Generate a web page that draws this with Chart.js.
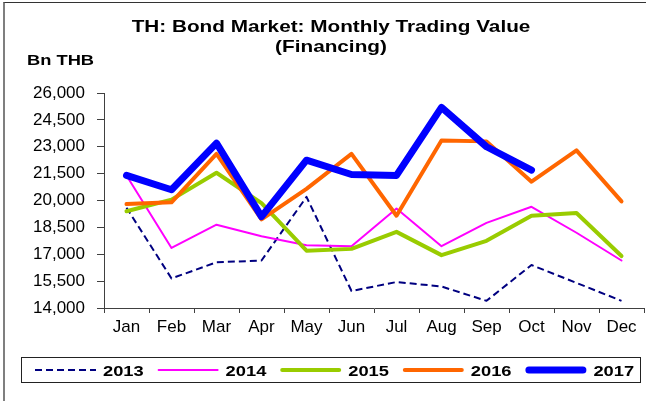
<!DOCTYPE html>
<html>
<head>
<meta charset="utf-8">
<script src="https://cdn.jsdelivr.net/npm/chart.js@4/dist/chart.umd.min.js"></script>
<style>
  body { margin: 0; background: #fff; }
  #wrap { position: relative; width: 646px; height: 401px; }
  #frame {
    position: absolute; left: 3px; top: 2px; right: 0; bottom: 0;
    border-left: 2px solid #7f7f7f; border-top: 1px solid #333;
    pointer-events: none;
  }
  canvas { display: block; }
</style>
</head>
<body>
<div id="wrap">
  <canvas id="chart" width="646" height="401"></canvas>
  <div id="frame"></div>
</div>
<script>
// Monthly trading value (financing), Bn THB
const months = ['Jan', 'Feb', 'Mar', 'Apr', 'May', 'Jun', 'Jul', 'Aug', 'Sep', 'Oct', 'Nov', 'Dec'];
const years = ['2013', '2014', '2015', '2016', '2017'];
const v2013 = [19600, 15650, 16550, 16650, 20200, 14950, 15450, 15200, 14400, 16400, 15400, 14400];
const v2014 = [21400, 17350, 18650, 18000, 17500, 17450, 19550, 17450, 18750, 19650, 18200, 16650];
const v2015 = [19400, 20050, 21550, 19850, 17200, 17300, 18250, 16950, 17750, 19150, 19300, 16900];
const v2016 = [19800, 19900, 22600, 18950, 20650, 22600, 19150, 23350, 23300, 21050, 22800, 19950];
const v2017 = [21400, 20600, 23200, 19100, 22250, 21450, 21400, 25200, 23000, 21700, null, null];
const yTicks = { min: 14000, max: 26000, step: 1500 };

const FONT = '"Liberation Sans", Arial, sans-serif';
const AXIS = '#404040';

function line(label, data, color, width, order, dash) {
  return {
    label: label,
    data: data,
    borderColor: color,
    backgroundColor: color,
    borderWidth: width,
    borderDash: dash || [],
    borderJoinStyle: 'round',
    borderCapStyle: dash ? 'butt' : 'round',
    pointRadius: 0,
    tension: 0,
    order: order,
    spanGaps: false
  };
}

// text drawn a little wider than the font's natural width
function wideText(ctx, text, x, y, font, sx, align) {
  ctx.save();
  ctx.font = font;
  ctx.textAlign = align;
  ctx.textBaseline = 'alphabetic';
  ctx.translate(x, y);
  ctx.scale(sx, 1);
  ctx.fillText(text, 0, 0);
  ctx.restore();
}

// title, unit label and boxed legend
const decor = {
  id: 'decor',
  afterDraw(chart) {
    const ctx = chart.ctx;
    ctx.save();
    ctx.fillStyle = '#000';
    wideText(ctx, 'TH: Bond Market: Monthly Trading Value', 331, 32, 'bold 17px ' + FONT, 1.22, 'center');
    wideText(ctx, '(Financing)', 331, 52, 'bold 17px ' + FONT, 1.22, 'center');
    wideText(ctx, 'Bn THB', 27, 65, 'bold 15px ' + FONT, 1.22, 'left');

    // legend frame
    ctx.strokeStyle = '#222';
    ctx.lineWidth = 1;
    ctx.setLineDash([]);
    ctx.strokeRect(21.5, 357.5, 619, 25);

    chart.data.datasets.forEach((ds, i) => {
      const x0 = 35 + i * 122.6;
      const y = 370;
      ctx.save();
      ctx.strokeStyle = ds.borderColor;
      ctx.lineWidth = ds.borderWidth;
      ctx.setLineDash(ds.borderDash);
      ctx.lineCap = ds.borderDash.length ? 'butt' : 'round';
      const inset = ds.borderDash.length ? 0 : ds.borderWidth / 2;
      ctx.beginPath();
      ctx.moveTo(x0 + inset, y);
      ctx.lineTo(x0 + 61 - inset, y);
      ctx.stroke();
      ctx.restore();
      ctx.fillStyle = '#000';
      wideText(ctx, ds.label, x0 + 68, 376, 'bold 15px ' + FONT, 1.22, 'left');
    });
    ctx.restore();
  }
};

new Chart(document.getElementById('chart'), {
  type: 'line',
  data: {
    labels: months,
    datasets: [
      line(years[0], v2013, '#000080', 2, 4, [7, 4]),
      line(years[1], v2014, '#ff00ff', 2, 3),
      line(years[2], v2015, '#99cc00', 4, 2),
      line(years[3], v2016, '#ff6600', 4, 1),
      line(years[4], v2017, '#0000ff', 7, 0)
    ]
  },
  options: {
    responsive: false,
    animation: false,
    layout: { padding: { top: 93, left: 0, right: 2, bottom: 0 } },
    plugins: {
      legend: { display: false },
      title: { display: false },
      tooltip: { enabled: false }
    },
    scales: {
      x: {
        offset: true,
        grid: { offset: true, drawOnChartArea: false, tickLength: 5, color: AXIS },
        border: { color: AXIS, width: 1 },
        ticks: { color: '#000', padding: 4, maxRotation: 0, font: { family: FONT, size: 17 } },
        afterFit: (scale) => { scale.height = 93; }
      },
      y: {
        min: yTicks.min,
        max: yTicks.max,
        grid: { drawOnChartArea: false, tickLength: 7, color: AXIS },
        border: { color: AXIS, width: 1 },
        ticks: {
          stepSize: yTicks.step,
          color: '#000',
          padding: 12,
          font: { family: FONT, size: 17 },
          callback: (v) => v.toLocaleString('en-US')
        },
        afterFit: (scale) => { scale.width = 104; }
      }
    }
  },
  plugins: [decor]
});
</script>
</body>
</html>
